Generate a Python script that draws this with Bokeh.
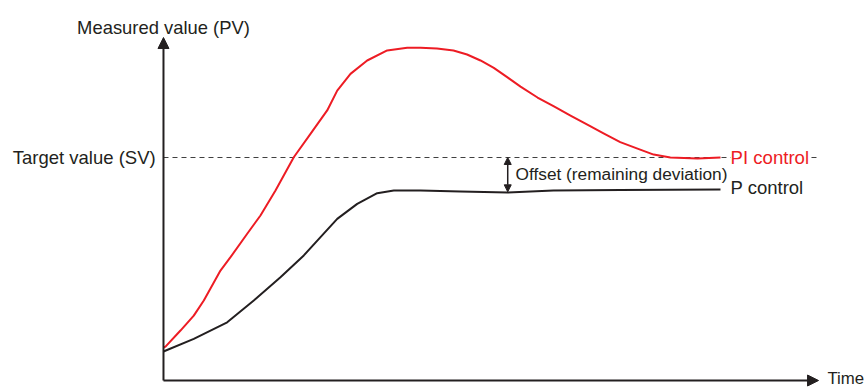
from bokeh.plotting import figure
from bokeh.models import Range1d, Arrow, NormalHead, Label
from bokeh.embed import file_html
from bokeh.resources import INLINE

# Data (time in arbitrary units, value where target SV = 100)
pi_time = [0, 0.36, 3.05, 5.44, 7.24, 10.23, 12.03, 15.03, 17.41, 20.11, 23.39, 26.39, 29.39, 31.19,
           33.57, 36.57, 40.16, 43.75, 46.14, 49.1, 52.06, 54.5, 56.91, 59.3, 61.76, 64.1, 67.15,
           70.1, 73.07, 76.1, 79.0, 82.0, 85.1, 88.0, 91.0, 95.87, 100]
pi_value = [14.8, 15.2, 22.4, 29.1, 35.9, 49.3, 55.3, 65.8, 74.0, 85.2, 100.1, 110.6, 121.1, 130.0,
            137.5, 143.5, 148.0, 149.2, 149.2, 148.9, 148.0, 146.2, 143.5, 140.2, 135.9, 131.8, 126.9,
            122.9, 118.8, 114.7, 110.8, 106.9, 104.0, 101.3, 100.0, 99.6, 100.0]

p_time = [0, 5.44, 11.44, 16.21, 21.0, 25.19, 28.19, 31.19, 34.78, 38.37, 41.35, 46.14, 53.3,
          61.8, 70.0, 82.0, 100]
p_value = [13.0, 18.7, 26.1, 35.9, 46.3, 56.1, 64.3, 72.5, 79.2, 84.0, 85.2, 85.2, 84.8,
           84.3, 85.2, 85.4, 85.7]

target_sv = 100
offset_time = 61.8
p_steady = 84.6

labels = {
    "y": "Measured value (PV)",
    "x": "Time",
    "sv": "Target value (SV)",
    "pi": "PI control",
    "p": "P control",
    "offset": "Offset (remaining deviation)",
}

RED = "#ed1c24"
DARK = "#231f20"
FONT = "Liberation Sans"

p = figure(width=866, height=390, output_backend="svg", toolbar_location=None,
           x_range=Range1d(-29.26, 126.21), y_range=Range1d(-4.48, 170.4),
           min_border=0)
p.axis.visible = False
p.grid.visible = False
p.outline_line_color = None
p.background_fill_color = "white"

# target dashed line
p.line([0, 117.6], [target_sv, target_sv], line_color="#404040", line_width=1.1, line_dash="5 4")

# curves
p.line(p_time, p_value, line_color=DARK, line_width=2, line_join="round")
p.line(pi_time, pi_value, line_color=RED, line_width=2, line_join="round")

# axes as arrows
p.add_layout(Arrow(x_start=0, y_start=0, x_end=0, y_end=153.8, line_color=DARK, line_width=2,
                   end=NormalHead(size=11, fill_color=DARK, line_color=DARK)))
p.add_layout(Arrow(x_start=0, y_start=0, x_end=117.6, y_end=0, line_color=DARK, line_width=2,
                   end=NormalHead(size=11, fill_color=DARK, line_color=DARK)))

# offset double arrow
p.add_layout(Arrow(x_start=offset_time, y_start=p_steady, x_end=offset_time, y_end=target_sv,
                   line_color=DARK, line_width=1.5,
                   start=NormalHead(size=7, fill_color=DARK, line_color=DARK),
                   end=NormalHead(size=7, fill_color=DARK, line_color=DARK)))

def lab(x, y, text, size, align="left", baseline="middle", color=DARK, bg=None):
    l = Label(x=x, y=y, text=text, text_align=align, text_baseline=baseline,
              text_color=color, text_font=FONT, text_font_size=size)
    if bg:
        l.background_fill_color = bg
    p.add_layout(l)

lab(0, 158.3, labels["y"], "18.4px", align="center", baseline="alphabetic")
lab(-1.4, target_sv, labels["sv"], "18.5px", align="right")
lab(119.2, 0.8, labels["x"], "16.8px")
lab(101.8, target_sv, labels["pi"], "18.6px", color=RED, bg="white")
lab(101.8, 86.4, labels["p"], "18.5px")
lab(63.2, 92.6, labels["offset"], "17.3px")

open("out.html", "w").write(file_html(p, INLINE))
